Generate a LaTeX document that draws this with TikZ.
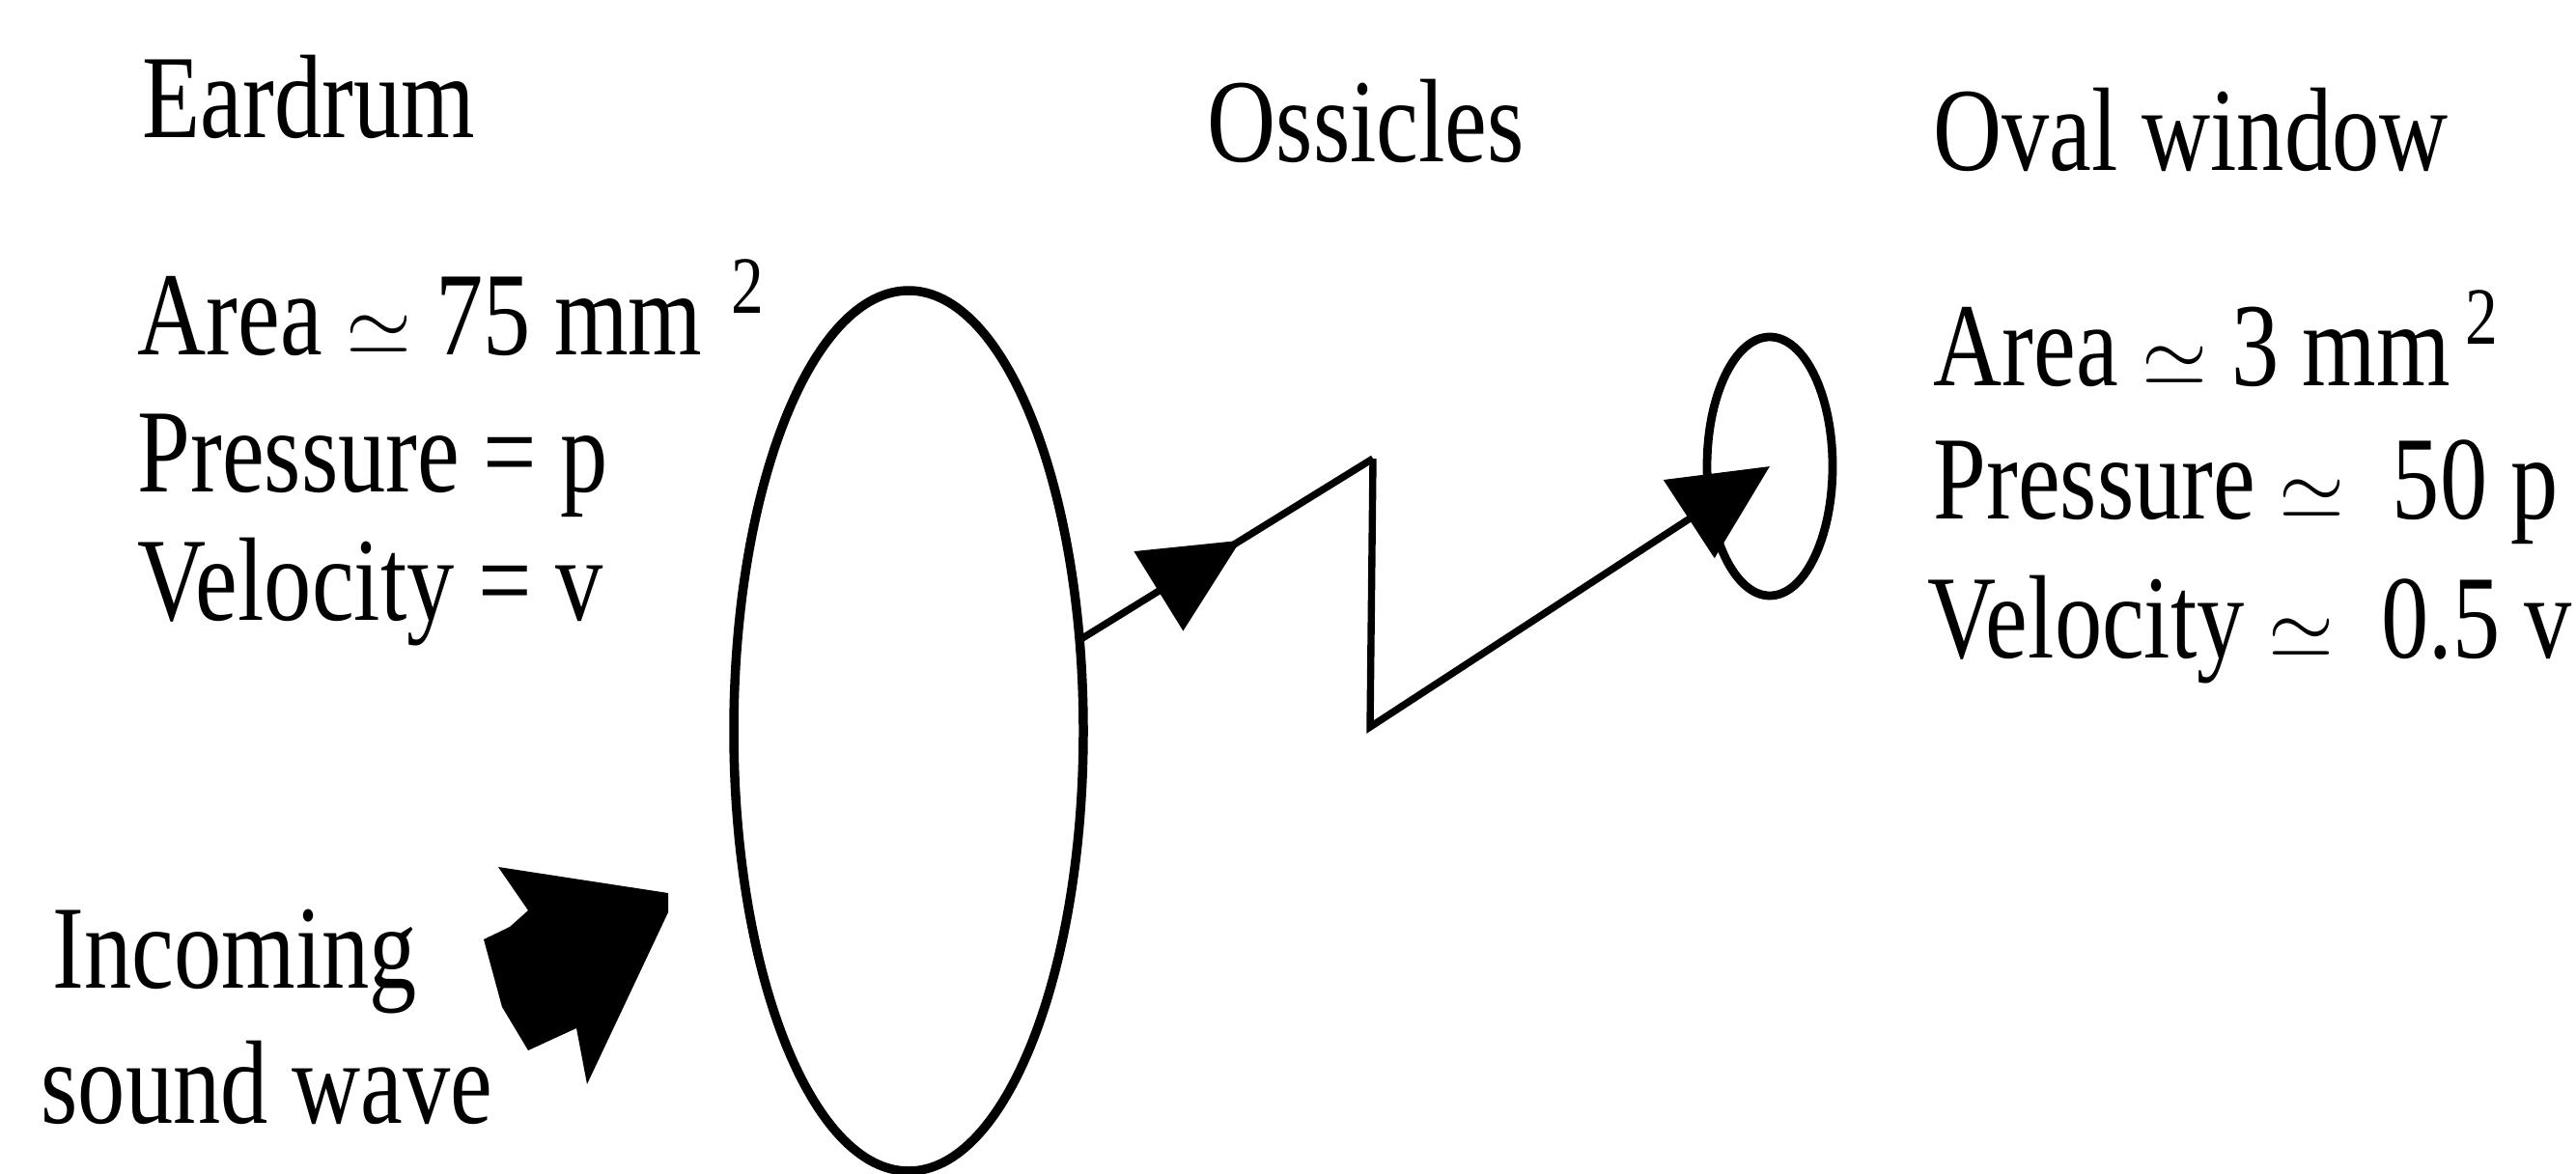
\documentclass[tikz,border=0pt]{standalone}
\usepackage{fontspec}
\setmainfont{Liberation Serif}[FakeStretch=0.8]
\usepackage{tikz}
\usetikzlibrary{shapes.geometric, arrows.meta, positioning, decorations.markings}
\tikzstyle{lbl} = [anchor=base west, inner sep=0pt, font=\fontsize{35pt}{40pt}\selectfont]
\tikzstyle{lever} = [line width=2.1pt, line join=miter]
\tikzstyle{bigtip} = [-{Triangle[length=1cm, width=0.95cm]}]
\newcommand{\sqmark}{\raisebox{0.43cm}{\fontsize{24pt}{24pt}\selectfont 2}}

\begin{document}
\begin{tikzpicture}
    \useasboundingbox (0,0) rectangle (26.68,12.15);

    % Headings
    \node (eartitle) [lbl] at (1.47,10.72) {Eardrum};
    \node (osstitle) [lbl] at (12.50,10.47) {Ossicles};
    \node (ovaltitle) [lbl] at (20.02,10.38) {Oval window};

    % Eardrum values
    \node (areaL) [lbl] at (1.42,8.47) {Area $\simeq$ 75 mm\hspace{0.3cm}\sqmark};
    \node (presL) [lbl] at (1.42,7.05) {Pressure = p};
    \node (veloL) [lbl] at (1.42,5.72) {Velocity = v};

    % Oval window values
    \node (areaR) [lbl] at (20.02,8.15) {Area $\simeq$ 3 mm\hspace{0.15cm}\sqmark};
    \node (presR) [lbl] at (20.02,6.77) {Pressure $\simeq$ ~50 p};
    \node (veloR) [lbl] at (19.96,5.33) {Velocity $\simeq$ ~0.5 v};

    % Incoming sound
    \node (incoming) [lbl] at (0.54,1.92) {Incoming};
    \node (sound) [lbl] at (0.42,0.52) {sound wave};

    % Membranes
    \node (eardrum) [ellipse, draw, line width=2.7pt, inner sep=0pt, outer sep=0pt,
          minimum width=3.62cm, minimum height=9.12cm] at (9.41,4.58) {};
    \node (oval) [ellipse, draw, line width=2.5pt, inner sep=0pt, outer sep=0pt,
          minimum width=1.3cm, minimum height=2.68cm] at (18.33,7.32) {};

    % Ossicle chain
    \coordinate (peak) at (14.22,7.40);
    \coordinate (trough) at (14.19,4.62);
    \draw [lever, postaction={decorate}, decoration={markings,
          mark=at position 0.55 with {\arrow{Triangle[length=1cm, width=0.95cm]}}}]
          (eardrum.28.5) -- (peak);
    \draw [lever, bigtip] (peak) -- (trough) -- (oval.center);

    % Sound wave arrow
    \fill (5.16,3.17) -- (6.92,2.90) -- (6.92,2.70) -- (6.08,0.92) -- (5.97,1.50)
          -- (5.47,1.27) -- (5.20,1.72) -- (5.01,2.42) -- (5.28,2.55) -- (5.47,2.72) -- cycle;
\end{tikzpicture}
\end{document}
